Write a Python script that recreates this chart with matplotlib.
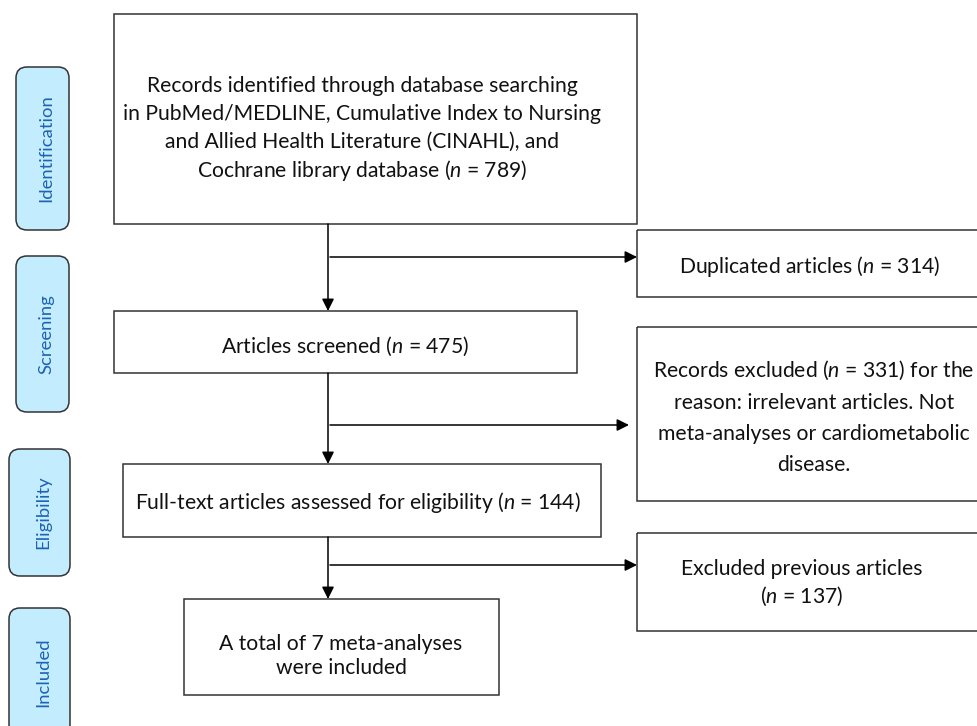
import matplotlib
matplotlib.use('Agg')
import matplotlib.pyplot as plt
from matplotlib.patches import FancyBboxPatch, Rectangle

plt.rcParams['font.family'] = ['Lato', 'DejaVu Sans']
plt.rcParams['mathtext.fontset'] = 'custom'
plt.rcParams['mathtext.rm'] = 'Lato'
plt.rcParams['mathtext.it'] = 'Lato:italic'

# PRISMA stages and counts
stages = ['Identification', 'Screening', 'Eligibility', 'Included']
n_identified = 789
n_duplicates = 314
n_screened = 475
n_excluded = 331
n_fulltext = 144
n_previous = 137
n_included = 7

main_texts = [
    ['Records identified through database searching',
     'in PubMed/MEDLINE, Cumulative Index to Nursing',
     'and Allied Health Literature (CINAHL), and',
     'Cochrane library database ($n$ = %d)' % n_identified],
    ['Articles screened ($n$ = %d)' % n_screened],
    ['Full-text articles assessed for eligibility ($n$ = %d)' % n_fulltext],
    ['A total of %d meta-analyses' % n_included, 'were included'],
]
side_texts = [
    ['Duplicated articles ($n$ = %d)' % n_duplicates],
    ['Records excluded ($n$ = %d) for the' % n_excluded,
     'reason: irrelevant articles. Not',
     'meta-analyses or cardiometabolic',
     'disease.'],
    ['Excluded previous articles', '($n$ = %d)' % n_previous],
]

fig = plt.figure(figsize=(9.77, 7.26), dpi=100)
ax = fig.add_axes([0, 0, 1, 1])
ax.set_xlim(0, 977)
ax.set_ylim(726, 0)
ax.axis('off')

edge = '#333333'
fs = 15.2


def box(x0, y0, x1, y1, lines, tx, baselines):
    ax.add_patch(Rectangle((x0, y0), x1 - x0, y1 - y0, fill=False,
                           edgecolor=edge, lw=1.1))
    for line, yb in zip(lines, baselines):
        ax.text(tx, yb, line, ha='center', va='baseline', fontsize=fs,
                color='#111111')


def arrow(x0, y0, x1, y1):
    ax.annotate('', xy=(x1, y1), xytext=(x0, y0),
                arrowprops=dict(arrowstyle='-|>', color='black', lw=1.1,
                                shrinkA=0, shrinkB=0, mutation_scale=18))


# stage labels on the left
label_boxes = [(16, 67, 69, 230), (16, 256, 69, 412), (9, 449, 70, 576), (9, 608, 70, 736)]
for (x0, y0, x1, y1), s in zip(label_boxes, stages):
    ax.add_patch(FancyBboxPatch((x0, y0), x1 - x0, y1 - y0,
                                boxstyle='round,pad=0,rounding_size=11',
                                facecolor='#c4ecff', edgecolor=edge, lw=1.1))
    ax.text((x0 + x1) / 2 + 4, (y0 + y1) / 2, s, rotation=90, ha='center',
            va='center', fontsize=13.3, color='#1c64b4')

# main column
box(114, 14, 637, 224, main_texts[0], 362, [92, 120, 148, 177])
box(114, 311, 577, 373, main_texts[1], 345, [353])
box(123, 464, 601, 537, main_texts[2], 358, [509])
box(184, 599, 499, 695, main_texts[3], 341, [650, 674])

# exclusion boxes on the right (cut off by the right edge)
box(637, 230, 985, 297, side_texts[0], 810, [273])
box(637, 327, 990, 501, side_texts[1], 814, [377, 409, 440, 471])
box(637, 533, 985, 631, side_texts[2], 802, [575, 603])

# vertical arrows
arrow(328, 224, 328, 311)
arrow(328, 373, 328, 464)
arrow(328, 537, 328, 599)

# horizontal arrows
arrow(330, 257, 637, 257)
arrow(330, 425, 629, 425)
arrow(330, 565, 637, 565)

fig.savefig('out.png', dpi=100)
